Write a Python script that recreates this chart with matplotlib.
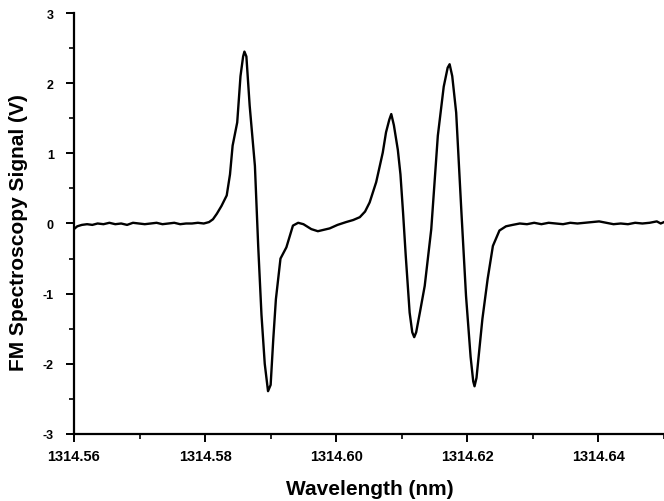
import matplotlib
matplotlib.use("Agg")
import matplotlib.pyplot as plt
from matplotlib.ticker import MultipleLocator, FormatStrFormatter

# wavelength (nm) and FM spectroscopy signal (V)
wavelength = [
    1314.5600, 1314.5605, 1314.5612, 1314.5620, 1314.5628, 1314.5636, 1314.5645,
    1314.5654, 1314.5663, 1314.5672, 1314.5681, 1314.5690, 1314.5699, 1314.5708,
    1314.5717, 1314.5726, 1314.5735, 1314.5744, 1314.5753, 1314.5762, 1314.5771,
    1314.5780, 1314.5789, 1314.5798, 1314.5806, 1314.5812, 1314.5818, 1314.5825,
    1314.5833, 1314.5838, 1314.5842, 1314.5849, 1314.5854, 1314.5858, 1314.5860,
    1314.5863, 1314.5868, 1314.5872, 1314.5876, 1314.5881, 1314.5886, 1314.5891,
    1314.5896, 1314.5900, 1314.5904, 1314.5908, 1314.5915, 1314.5924, 1314.5934,
    1314.5942, 1314.5950, 1314.5962, 1314.5972, 1314.5981, 1314.5990, 1314.6002,
    1314.6015, 1314.6026, 1314.6036, 1314.6044, 1314.6051, 1314.6061, 1314.6071,
    1314.6076, 1314.6081, 1314.6084, 1314.6088, 1314.6094, 1314.6098, 1314.6102,
    1314.6106, 1314.6112, 1314.6116, 1314.6119, 1314.6122, 1314.6128, 1314.6135,
    1314.6145, 1314.6155, 1314.6164, 1314.6170, 1314.6173, 1314.6177, 1314.6183,
    1314.6191, 1314.6198, 1314.6205, 1314.6209, 1314.6211, 1314.6214, 1314.6223,
    1314.6231, 1314.6239, 1314.6249, 1314.6259, 1314.6269, 1314.6280, 1314.6291,
    1314.6302, 1314.6313, 1314.6324, 1314.6335, 1314.6346, 1314.6357, 1314.6368,
    1314.6379, 1314.6390, 1314.6401, 1314.6412, 1314.6423, 1314.6434, 1314.6445,
    1314.6456, 1314.6467, 1314.6478, 1314.6489, 1314.6495, 1314.6500,
]
signal = [
    -0.08, -0.04, -0.02, -0.01, -0.02, 0.00, -0.01,
    0.01, -0.01, 0.00, -0.02, 0.01, 0.00, -0.01,
    0.00, 0.01, -0.01, 0.00, 0.01, -0.01, 0.00,
    0.00, 0.01, 0.00, 0.02, 0.06, 0.14, 0.25,
    0.40, 0.70, 1.11, 1.44, 2.10, 2.38, 2.45,
    2.38, 1.68, 1.25, 0.82, -0.32, -1.30, -2.00,
    -2.39, -2.30, -1.65, -1.08, -0.50, -0.34, -0.03,
    0.01, -0.01, -0.08, -0.11, -0.09, -0.07, -0.02,
    0.02, 0.05, 0.09, 0.17, 0.30, 0.59, 1.01,
    1.30, 1.48, 1.56, 1.40, 1.05, 0.70, 0.15,
    -0.45, -1.27, -1.55, -1.62, -1.55, -1.25, -0.89,
    -0.08, 1.25, 1.95, 2.22, 2.27, 2.10, 1.58,
    0.16, -1.03, -1.90, -2.25, -2.32, -2.20, -1.36,
    -0.79, -0.32, -0.10, -0.04, -0.02, 0.00, -0.01,
    0.01, -0.01, 0.01, 0.00, -0.01, 0.01, 0.00,
    0.01, 0.02, 0.03, 0.01, -0.01, 0.00, -0.01,
    0.01, 0.00, 0.01, 0.03, 0.00, 0.02,
]

plt.rcParams['font.family'] = ['Liberation Sans', 'DejaVu Sans']
plt.rcParams['font.weight'] = 'bold'
plt.rcParams['axes.unicode_minus'] = False

fig = plt.figure(figsize=(6.64, 5.02), dpi=100)
ax = fig.add_axes([0.1114, 0.1335, 0.8886, 0.8386])

ax.plot(wavelength, signal, color='black', linewidth=1.7)

ax.set_xlim(1314.56, 1314.65)
ax.set_ylim(-3, 3)
ax.xaxis.set_major_locator(MultipleLocator(0.02))
ax.xaxis.set_minor_locator(MultipleLocator(0.01))
ax.xaxis.set_major_formatter(FormatStrFormatter('%.2f'))
ax.yaxis.set_major_locator(MultipleLocator(1))
ax.yaxis.set_minor_locator(MultipleLocator(0.5))

for side in ['top', 'right']:
    ax.spines[side].set_visible(False)
for side in ['left', 'bottom']:
    ax.spines[side].set_linewidth(1.6)

ax.tick_params(axis='both', which='major', direction='out', length=5.5, width=1.4)
ax.tick_params(axis='both', which='minor', direction='out', length=3.5, width=1.2)
ax.tick_params(axis='x', which='major', labelsize=10.5, pad=5)
ax.tick_params(axis='y', which='major', labelsize=9, pad=9)

ax.set_xlabel('Wavelength (nm)', fontsize=15, fontweight='bold')
ax.set_ylabel('FM Spectroscopy Signal (V)', fontsize=15, fontweight='bold')
ax.xaxis.set_label_coords(0.502, -0.108)
ax.yaxis.set_label_coords(-0.078, 0.482)

fig.savefig('out.png', dpi=100)
